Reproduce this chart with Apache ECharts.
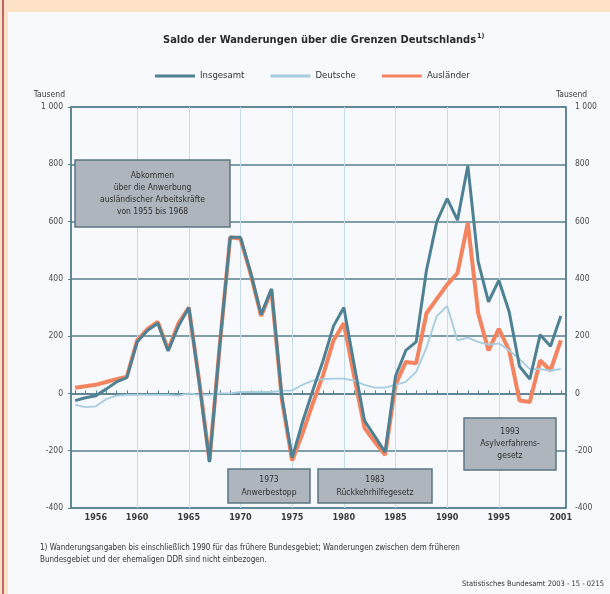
<!DOCTYPE html>
<html>
<head>
<meta charset="utf-8">
<script src="https://cdn.jsdelivr.net/npm/echarts@6/dist/echarts.min.js"></script>
<style>
  body { margin: 0; background: #fde2c8; }
  #frame { position: absolute; left: 0; top: 0; width: 610px; height: 594px; background: #fde2c8; }
  #redline { position: absolute; left: 2px; top: 0; width: 2px; height: 594px; background: #c9606a; }
  #panel { position: absolute; left: 8px; top: 12px; width: 602px; height: 582px; background: #f8f9fc; }
  #chart { position: absolute; left: 0; top: 0; width: 610px; height: 594px; }
</style>
</head>
<body>
<div id="frame"></div>
<div id="redline"></div>
<div id="panel"></div>
<div id="chart"></div>
<script>
// Jahre und Wanderungssaldo in Tausend
var years = [1954,1955,1956,1957,1958,1959,1960,1961,1962,1963,1964,1965,1966,1967,1968,1969,1970,
  1971,1972,1973,1974,1975,1976,1977,1978,1979,1980,1981,1982,1983,1984,1985,1986,1987,1988,1989,
  1990,1991,1992,1993,1994,1995,1996,1997,1998,1999,2000,2001];
var insgesamt = [-25,-15,-8,15,40,55,180,220,245,148,235,300,40,-240,170,545,545,
  420,275,365,-10,-225,-100,10,115,235,300,100,-95,-150,-205,60,150,180,430,600,
  680,605,795,460,320,395,285,95,50,205,165,270];
var deutsche = [-40,-48,-45,-20,-8,-5,-5,-5,-5,-5,-8,0,-5,-5,0,0,5,
  5,5,5,10,10,30,45,50,52,52,45,30,20,20,30,40,75,160,270,
  305,185,195,180,170,175,150,120,85,85,80,85];
var auslaender = [20,25,30,40,50,58,185,225,250,152,245,300,45,-235,170,545,540,
  415,270,360,-20,-235,-140,-35,65,185,245,60,-120,-170,-215,30,110,105,280,330,
  380,420,595,280,150,225,150,-25,-30,115,80,185];

var labelYears = [1956,1960,1965,1970,1975,1980,1985,1990,1995,2001];
var gridYears = [1960,1965,1970,1975,1980,1985,1990,1995];

function pairs(vals) {
  return years.map(function (y, i) { return [y, vals[i]]; });
}

var axisColor = '#587f8f';
var font = '"Liberation Sans Narrow", "DejaVu Sans Condensed", "Liberation Sans", sans-serif';

function box(x, y, w, h, text, lines) {
  return [
    { type: 'rect', z: 100, shape: { x: x, y: y, width: w, height: h },
      style: { fill: '#aeb5bc', stroke: '#5b7482', lineWidth: 1.5 } },
    { type: 'text', z: 101, x: x + w / 2, y: y + h / 2,
      style: { text: text, fill: '#2f2f2f', font: '8.5px ' + font,
        align: 'center', verticalAlign: 'middle', lineHeight: lines } }
  ];
}

var graphics = [].concat(
  box(75, 160, 155, 67, 'Abkommen\nüber die Anwerbung\nausländischer Arbeitskräfte\nvon 1955 bis 1968', 12),
  box(228, 469, 82, 34, '1973\nAnwerbestopp', 13),
  box(318, 469, 114, 34, '1983\nRückkehrhilfegesetz', 13),
  box(464, 418, 92, 52, '1993\nAsylverfahrens-\ngesetz', 12),
  [
    { type: 'text', left: 40, top: 542, z: 100,
      style: { text: '1) Wanderungsangaben bis einschließlich 1990 für das frühere Bundesgebiet; Wanderungen zwischen dem früheren\nBundesgebiet und der ehemaligen DDR sind nicht einbezogen.',
        fill: '#333', font: '8px ' + font, lineHeight: 12 } },
    { type: 'text', right: 6, top: 580, z: 100,
      style: { text: 'Statistisches Bundesamt 2003 - 15 - 0215', fill: '#333', font: '7.5px ' + font } }
  ]
);

var chart = echarts.init(document.getElementById('chart'));
chart.setOption({
  backgroundColor: 'transparent',
  animation: false,
  textStyle: { fontFamily: font },
  title: {
    text: '{a|Saldo der Wanderungen über die Grenzen Deutschlands}{s|1)}',
    left: 158, top: 28,
    textStyle: {
      rich: {
        a: { fontSize: 11, fontWeight: 'bold', color: '#2a2a2a', fontFamily: font },
        s: { fontSize: 7, color: '#2a2a2a', fontFamily: font, padding: [0, 0, 8, 1] }
      }
    }
  },
  legend: {
    top: 66, left: 150, icon: 'rect',
    itemWidth: 40, itemHeight: 3, itemGap: 26,
    textStyle: { fontSize: 9.5, color: '#333', fontFamily: font },
    data: ['Insgesamt', 'Deutsche', 'Ausländer']
  },
  grid: {
    left: 71, right: 44, top: 107, bottom: 86,
    show: true, borderColor: axisColor, borderWidth: 1.5
  },
  xAxis: {
    type: 'value', min: 1953.6, max: 2001.5,
    splitLine: { show: false },
    axisLine: { lineStyle: { color: axisColor, width: 1.5 } },
    axisTick: { customValues: years, inside: true, length: 3, lineStyle: { color: axisColor } },
    axisLabel: {
      customValues: labelYears, fontSize: 9, fontWeight: 'bold', color: '#3a3a3a', margin: 5,
      formatter: function (v) { return String(v); }
    }
  },
  yAxis: [{
    type: 'value', min: -400, max: 1000, interval: 200,
    name: 'Tausend', nameLocation: 'end', nameGap: 8,
    nameTextStyle: { fontSize: 8.5, color: '#3a3a3a', align: 'right', padding: [0, 6, 0, 0] },
    axisLine: { show: true, lineStyle: { color: axisColor, width: 1.5 } },
    axisTick: { show: true, length: 3, lineStyle: { color: axisColor } },
    axisLabel: { fontSize: 8.5, color: '#4a4a4a', margin: 8,
      formatter: function (v) { return v === 1000 ? '1 000' : String(v); } },
    splitLine: { lineStyle: { color: axisColor, width: 1.6 } }
  }, {
    type: 'value', min: -400, max: 1000, interval: 200, position: 'right',
    name: 'Tausend', nameLocation: 'end', nameGap: 8,
    nameTextStyle: { fontSize: 8.5, color: '#3a3a3a', align: 'left', padding: [0, 0, 0, -10] },
    axisLine: { show: true, lineStyle: { color: axisColor, width: 1.5 } },
    axisTick: { show: false },
    axisLabel: { fontSize: 8.5, color: '#4a4a4a', margin: 9,
      formatter: function (v) { return v === 1000 ? '1 000' : String(v); } },
    splitLine: { show: false }
  }],
  series: [{
    name: 'Ausländer', type: 'line', data: pairs(auslaender),
    showSymbol: false, symbol: 'none', z: 2,
    lineStyle: { color: '#f4845f', width: 4 },
    itemStyle: { color: '#f4845f' },
    markLine: {
      silent: true, symbol: ['none', 'none'], label: { show: false }, z: 1,
      lineStyle: { color: '#c6dceb', width: 1, type: 'solid' },
      data: gridYears.map(function (y) { return { xAxis: y }; })
    }
  }, {
    name: 'Deutsche', type: 'line', data: pairs(deutsche),
    showSymbol: false, symbol: 'none', z: 3,
    lineStyle: { color: '#a6cce0', width: 1.8 },
    itemStyle: { color: '#a6cce0' }
  }, {
    name: 'Insgesamt', type: 'line', data: pairs(insgesamt),
    showSymbol: false, symbol: 'none', z: 4,
    lineStyle: { color: '#4d8193', width: 3 },
    itemStyle: { color: '#4d8193' }
  }],
  graphic: graphics
});
</script>
</body>
</html>
